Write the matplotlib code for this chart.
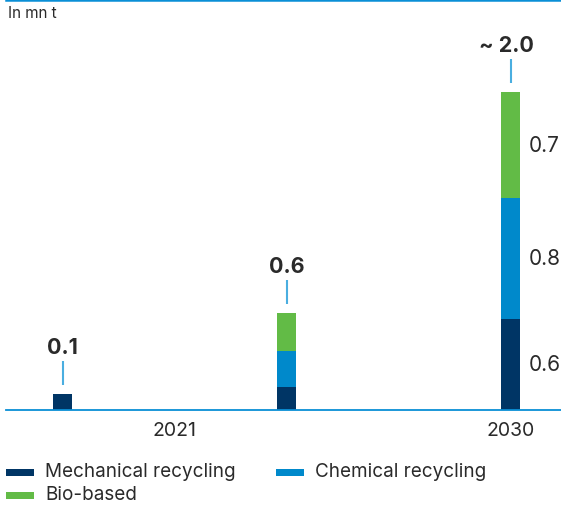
import matplotlib
matplotlib.use("Agg")
import matplotlib.pyplot as plt
from matplotlib.patches import Rectangle
from matplotlib.lines import Line2D
import numpy as np

plt.rcParams['font.family'] = ['Inter', 'DejaVu Sans']

# Data (million tonnes)
series = ["Mechanical recycling", "Chemical recycling", "Bio-based"]
mechanical = [0.10, 0.15, 0.6]
chemical = [0.0, 0.24, 0.8]
bio_based = [0.0, 0.25, 0.7]
total_labels = ["0.1", "0.6", "~ 2.0"]
segment_labels_last = ["0.6", "0.8", "0.7"]
tick_positions = [0.5, 2]
tick_labels = ["2021", "2030"]
unit_label = "In mn t"

colors = ["#003565", "#0089cb", "#62bb46"]
accent = "#0a8fd6"
connector = "#4aaee0"
text_color = "#2a2a2a"

W, H = 561, 506
fig = plt.figure(figsize=(W / 100, H / 100), dpi=100)

base_px = 95.5
ax = fig.add_axes([6 / W, base_px / H, 1 - 6 / W, 1 - base_px / H])
px_per_unit = 151.1
ax.set_ylim(0, (H - base_px) / px_per_unit)
ax.set_xlim(-(62.5 - 6) / 224, (561 - 62.5) / 224)

x = np.arange(len(mechanical))
width = 19 / 224
stacks = [mechanical, chemical, bio_based]
bottom = np.zeros(len(x))
for vals, col in zip(stacks, colors):
    vals = np.array(vals)
    ax.bar(x, vals, width, bottom=bottom, color=col, linewidth=0, zorder=2)
    bottom = bottom + vals
totals = bottom

# connectors and total labels above each bar
for xi, tot, lab in zip(x, totals, total_labels):
    y0 = tot + 9 / px_per_unit
    y1 = tot + 33 / px_per_unit
    ax.plot([xi, xi], [y0, y1], color=connector, lw=1.5, solid_capstyle='butt')
    dx = -4 / 224 if lab.startswith("~") else 0
    ax.text(xi + dx, tot + 47 / px_per_unit, lab, ha='center', va='center',
            fontsize=15.5, fontweight='bold', color=text_color)

# segment values for the last bar
cum = 0
last = len(x) - 1
for vals, lab in zip(stacks, segment_labels_last):
    v = vals[last]
    ax.text(last + 18.5 / 224, cum + v / 2, lab, ha='left', va='center',
            fontsize=15, color=text_color)
    cum += v

for s in ['top', 'right', 'left']:
    ax.spines[s].set_visible(False)
ax.spines['bottom'].set_color(accent)
ax.spines['bottom'].set_linewidth(1.3)
ax.set_yticks([])
ax.set_xticks(tick_positions)
ax.set_xticklabels(tick_labels, fontsize=14, color=text_color)
ax.tick_params(axis='x', length=0, pad=8.5)

# top rule
fig.add_artist(Line2D([6 / W, 1], [1 - 1.2 / H, 1 - 1.2 / H], color=accent,
                      lw=1.8, transform=fig.transFigure))
fig.text(8 / W, 1 - 18.5 / H, unit_label, fontsize=11, color=text_color,
         ha='left', va='baseline')

# legend
legend_pos = [(6, 477), (276, 477), (6, 500)]
for (lx, ly), name, col in zip(legend_pos, series, colors):
    fig.add_artist(Rectangle((lx / W, (H - ly) / H), 28 / W, 7.5 / H,
                             color=col, transform=fig.transFigure, lw=0))
    fig.text((lx + 39) / W, (H - ly) / H, name, fontsize=13.6,
             color=text_color, ha='left', va='baseline')

fig.savefig("out.png", dpi=100)
